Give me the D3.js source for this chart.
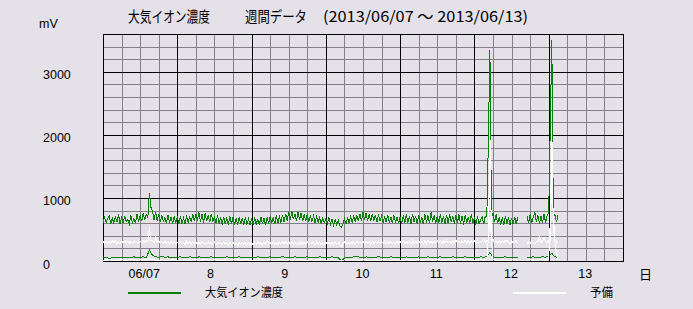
<!DOCTYPE html>
<html><head><meta charset="utf-8">
<script src="https://cdn.jsdelivr.net/npm/d3@7"></script>
<style>body{margin:0;background:#e5e1e8;} svg{display:block}</style>
</head><body><svg id="c" width="693" height="309"></svg>
<script>
const titleParts = ["大気イオン濃度", "週間データ", "(2013/06/07 ～ 2013/06/13)"];
const dayLabels = ["06/07", "8", "9", "10", "11", "12", "13"];
const xUnitLabel = "日";
const yUnitLabel = "mV";
const yTicks = [0, 1000, 2000, 3000];
const seriesNames = ["大気イオン濃度", "予備"];
const halfHourStep = 0.5;
const hourStep = 1;

// 大気イオン濃度 (upper channel), every 30 min from 06/07 00:00
const ionHigh = [
  600,690,610,670,720,590,680,600,700,615,740,595,685,605,710,620,660,590,730,610,675,600,745,620,
  720,630,760,650,740,690,1080,850,780,650,770,640,750,620,720,630,690,600,730,610,700,590,715,605,
  690,595,710,600,680,585,720,610,700,620,740,630,750,640,770,620,740,610,760,630,720,615,750,625,
  710,600,730,590,690,580,700,595,680,575,705,590,690,580,670,570,700,585,680,575,690,580,665,570,
  680,575,690,580,670,565,700,585,680,570,690,590,710,600,690,585,720,600,700,610,730,620,750,640,
  780,650,790,660,750,640,770,650,760,630,740,640,745,620,720,625,710,610,700,615,690,600,680,610,
  670,590,690,585,665,570,660,575,650,560,540,580,670,585,690,600,700,610,720,620,730,630,750,640,
  770,650,760,640,740,630,750,640,730,620,740,630,715,610,710,615,730,605,700,600,720,610,700,600,
  700,595,720,600,740,610,705,590,750,615,715,590,730,605,700,585,740,610,720,600,770,620,725,595,
  710,600,740,610,705,585,730,600,750,615,710,590,725,605,740,595,710,580,730,605,700,590,750,600,
  690,580,705,590,650,695,585,710,700,1900,3340,700,760,620,740,600,
  700,580,690,570,710,590,690,575,685,585,700,590,690,
  null,null,null,null,null,
  710,600,740,610,690,780,620,730,590,710,610,750,600,720,
  760,2100,3500,700,740,620,720
];

// 予備 (upper channel), every 30 min
const spareHigh = [
  310,280,320,285,305,275,325,290,315,280,300,270,320,285,310,290,325,280,305,275,315,290,320,280,
  315,285,330,290,340,300,540,320,330,290,370,295,320,285,310,275,315,280,300,270,310,285,305,275,
  300,265,305,275,295,260,310,270,300,265,295,275,310,265,300,270,315,275,290,260,305,270,310,265,
  300,260,295,270,290,255,300,265,290,255,295,260,300,265,285,255,290,260,300,265,285,250,295,260,
  295,255,300,260,305,265,290,255,300,265,310,270,300,260,305,265,295,255,305,265,300,270,310,260,
  300,265,310,270,305,260,300,265,310,270,300,260,305,265,295,270,300,260,305,265,300,255,295,265,
  300,260,305,265,295,255,300,270,290,260,230,265,305,270,310,265,305,275,315,270,310,280,300,275,
  310,270,315,280,305,270,315,275,310,275,320,270,310,280,315,270,305,280,310,275,305,270,315,280,
  315,270,320,275,305,280,315,270,325,275,310,280,320,275,315,270,320,275,330,280,310,285,320,275,
  330,280,320,275,325,280,335,285,315,280,325,275,330,285,320,280,310,290,330,275,325,280,320,285,
  320,275,330,285,310,320,340,290,330,320,2050,330,340,290,320,280,
  325,280,330,285,315,330,290,275,320,285,310,325,280,
  null,null,null,null,null,
  270,305,275,315,280,270,310,300,410,285,320,380,310,285,
  330,330,2130,420,350,300,290
];

// 大気イオン濃度 (lower channel), hourly
const ionLow = [
  50,55,45,50,55,50,60,55,50,60,65,55,60,65,60,170,90,65,60,70,60,65,55,60,
  60,65,55,60,65,60,55,65,60,55,60,65,55,60,60,55,65,60,55,60,65,55,60,55,
  60,55,65,60,55,60,65,60,55,60,65,60,55,60,65,60,55,60,65,60,55,60,65,60,
  55,60,65,60,50,0,45,55,60,65,75,60,55,65,60,55,60,65,60,55,60,65,60,55,
  60,55,65,60,55,60,65,55,60,65,60,55,60,65,60,55,60,65,60,55,60,65,60,55,
  60,55,65,60,70,130,65,60,55,60,65,60,55,60,60,null,null,55,60,65,55,60,65,60,
  80,120,65,60
];

// 予備 (lower channel), hourly
const spareLow = [
  15,12,18,15,10,15,18,12,15,20,15,12,18,15,20,40,25,15,12,18,15,10,15,18,
  15,12,18,15,10,15,18,12,15,20,15,12,18,15,10,15,18,12,15,20,15,12,18,15,
  15,12,18,15,10,15,18,12,15,20,15,12,18,15,10,15,18,12,15,20,15,12,18,15,
  15,12,18,15,10,5,18,12,15,20,15,12,18,15,10,15,18,12,15,20,15,12,18,15,
  15,12,18,15,10,15,18,12,15,20,15,12,18,15,10,15,18,12,15,20,15,12,18,15,
  15,12,18,15,20,700,30,15,12,18,15,10,15,18,12,null,null,15,18,12,15,20,15,20,
  40,1200,300,15
];

const GREEN = "#0a800a", WHITE = "#ffffff";
const m = {left: 103, right: 623, top: 34, bottom: 261};
const svg = d3.select("#c");
const x = d3.scaleLinear().domain([0, 168]).range([m.left, m.right]);
const y = d3.scaleLinear().domain([0, 3600]).range([m.bottom, m.top]);
const px = v => Math.round(x(v)) + 0.5;
const py = v => Math.round(y(v)) + 0.5;

// grid
const grid = svg.append("g").attr("shape-rendering", "crispEdges");
d3.range(200, 3600, 200).filter(v => v % 1000 !== 0).forEach(v => {
  grid.append("line").attr("x1", m.left).attr("x2", m.right).attr("y1", py(v)).attr("y2", py(v)).attr("stroke", "#838087");
});
d3.range(6, 168, 6).filter(h => h % 24 !== 0).forEach(h => {
  grid.append("line").attr("y1", m.top).attr("y2", m.bottom).attr("x1", px(h)).attr("x2", px(h)).attr("stroke", "#838087");
});
[1000, 2000, 3000, 3600].forEach(v => {
  grid.append("line").attr("x1", m.left).attr("x2", m.right).attr("y1", py(v)).attr("y2", py(v)).attr("stroke", "#000");
});
d3.range(24, 168, 24).forEach(h => {
  grid.append("line").attr("y1", m.top).attr("y2", m.bottom).attr("x1", px(h)).attr("x2", px(h)).attr("stroke", "#000");
});
grid.append("line").attr("y1", m.top).attr("y2", m.bottom + 0.5).attr("x1", px(0)).attr("x2", px(0)).attr("stroke", "#000");
grid.append("line").attr("y1", m.top).attr("y2", m.bottom + 0.5).attr("x1", px(168)).attr("x2", px(168)).attr("stroke", "#000");
grid.append("line").attr("x1", m.left).attr("x2", m.right + 1).attr("y1", py(0)).attr("y2", py(0)).attr("stroke", "#000");

// series
function drawSeries(data, step, color) {
  const line = d3.line().defined(d => d != null).x((d, i) => x(i * step)).y(d => y(d));
  svg.append("path").datum(data).attr("d", line).attr("fill", "none")
    .attr("stroke", color).attr("stroke-width", 1).attr("shape-rendering", "crispEdges");
}
drawSeries(ionHigh, halfHourStep, GREEN);
drawSeries(ionLow, hourStep, GREEN);
drawSeries(spareHigh, halfHourStep, WHITE);
drawSeries(spareLow, hourStep, WHITE);

// y axis
const yAxis = d3.axisLeft(y).tickValues(yTicks).tickSize(0).tickFormat(d3.format("d"));
const gy = svg.append("g").attr("transform", `translate(${m.left},0)`).call(yAxis);
gy.select(".domain").remove();
gy.selectAll("text").attr("x", 43 - m.left).attr("dy", "0.56em").attr("text-anchor", "start")
  .attr("font-family", "Liberation Sans, Arial, sans-serif").attr("font-size", 12.5).attr("fill", "#000");
svg.append("text").attr("x", 39).attr("y", 28).text(yUnitLabel)
  .attr("font-family", "Liberation Sans, Arial, sans-serif").attr("font-size", 12.5);

// x axis
const xAxis = d3.axisBottom(x).tickValues(dayLabels.map((d, i) => i * 24 + 9.4)).tickSize(0)
  .tickFormat((d, i) => dayLabels[i]);
const gx = svg.append("g").attr("transform", `translate(0,${m.bottom})`).call(xAxis);
gx.select(".domain").remove();
gx.selectAll("text").attr("text-anchor", "start").attr("y", 8)
  .attr("x", (d, i) => i === 0 ? -4 : 0)
  .attr("font-family", "Liberation Sans, Arial, sans-serif").attr("font-size", 12.5).attr("fill", "#000");
svg.append("text").attr("x", 639).attr("y", 279).text(xUnitLabel)
  .attr("font-family", "Noto Sans CJK JP").attr("font-size", 13);

// title
const titleX = [128, 245, 323], titleW = [82, 62, 205];
titleParts.forEach((t, i) => {
  svg.append("text").attr("x", titleX[i]).attr("y", 21.5).text(t)
    .attr("font-family", "Noto Sans CJK JP").attr("font-size", 15)
    .attr("textLength", titleW[i]).attr("lengthAdjust", "spacingAndGlyphs");
});

// legend
const legendItems = [
  {name: seriesNames[0], color: GREEN, x0: 128, x1: 181, tx: 205, tw: 78},
  {name: seriesNames[1], color: WHITE, x0: 513, x1: 566, tx: 590, tw: 23}
];
legendItems.forEach(it => {
  svg.append("line").attr("x1", it.x0).attr("x2", it.x1).attr("y1", 293).attr("y2", 293)
    .attr("stroke", it.color).attr("stroke-width", 2);
  svg.append("text").attr("x", it.tx).attr("y", 296.5).text(it.name)
    .attr("font-family", "Noto Sans CJK JP").attr("font-size", 12)
    .attr("textLength", it.tw).attr("lengthAdjust", "spacingAndGlyphs");
});
</script>
</body></html>
